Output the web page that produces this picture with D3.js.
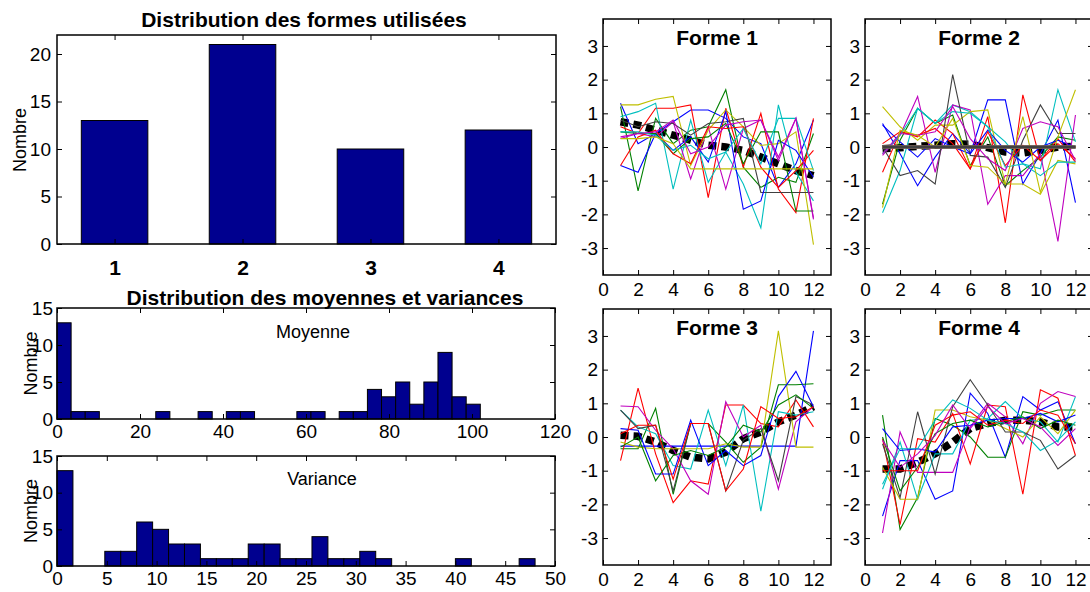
<!DOCTYPE html>
<html>
<head>
<meta charset="utf-8">
<script src="https://cdn.jsdelivr.net/npm/d3@7/dist/d3.min.js"></script>
<style>
    body { margin: 0; background: #fff; }
    svg text { font-family: "Liberation Sans", Arial, sans-serif; }
</style>
</head>
<body>
<svg id="chart" width="1090" height="592"></svg>
<script>
// ---- data ----
var formes = ['1', '2', '3', '4'];
var formeCounts = [13, 21, 10, 12];

// histogram of the means: 30 bins of width 3.4 starting at 0
var moyenneBinWidth = 3.4;
var moyenneCounts = [13, 1, 1, 0, 0, 0, 0, 1, 0, 0, 1, 0, 1, 1, 0, 0, 0, 1, 1, 0, 1, 1, 4, 3, 5, 2, 5, 9, 3, 2];

// histogram of the variances: 30 bins of width 1.6 starting at 0
var varianceBinWidth = 1.6;
var varianceCounts = [13, 0, 0, 2, 2, 6, 5, 3, 3, 1, 1, 1, 3, 3, 1, 1, 4, 1, 1, 2, 1, 0, 0, 0, 0, 1, 0, 0, 0, 1];

var mois = [1, 2, 3, 4, 5, 6, 7, 8, 9, 10, 11, 12];

var forme1Series = [
    [1.3, 0.1, 0.4, 0.75, 1.1, 1.1, 0.85, 0.3, 0.1, -1.2, -0.5, 0.8],
    [1.2, -1.3, 0.85, 0.1, 0.5, 0.6, 1.7, -0.6, -1.2, -0.9, -1.05, 0.4],
    [0.6, 0.4, 1.15, 1.15, 1.25, -1.5, 1.15, -0.6, 1.0, -1.25, -1.95, 0.85],
    [0.9, 1.05, 1.3, -1.25, 0.8, -1.05, -0.15, -1.1, -2.4, 1.25, -0.75, -1.6],
    [0.25, 0.4, 0.3, 0.75, -0.95, 0.6, -1.25, 0.55, 0.8, -0.3, 0.85, -2.1],
    [1.25, 1.25, 1.42, 1.5, -0.55, 0.5, 1.1, 0.6, 0.05, 0.1, 0.45, -2.9],
    [0.8, 0.6, 0.75, 0.7, 0.35, 0.7, 0.75, 0.85, -1.35, -1.35, -1.35, -1.35],
    [-0.55, -0.75, 0.4, -0.1, 0.3, -0.45, 1.05, -1.85, -1.6, 0.2, -0.1, -0.9],
    [0.45, 0.4, 0.4, -0.2, 0.25, 0.3, 0.7, -0.5, 0.45, 0.45, -1.9, -1.9],
    [-0.55, 0.3, 0.5, -0.2, -0.5, 0.6, 0.55, 0.6, -0.6, -1.2, -0.7, -0.1],
    [0.45, 0.45, 0.35, -0.1, 0.05, -0.35, -0.15, 0.55, -0.5, 0.85, 0.85, -0.7],
    [0.3, 0.4, 0.45, 0.8, -0.2, 0.0, 0.65, 0.75, 0.8, -0.4, 0.85, -2.15],
    [0.25, 0.25, 0.3, 0.1, -0.65, -0.65, -0.65, -0.65, -0.65, -0.65, -0.65, -0.65]
];
var forme1Mean = [0.75, 0.65, 0.5, 0.35, 0.2, 0.05, 0.0, -0.1, -0.3, -0.5, -0.7, -0.85];

// several shapes of this class are flat (all zero) and lie under the mean
var forme2Series = [
    [0.7, -0.2, -1.15, -0.3, 0.4, -0.2, 1.4, 1.4, -1.1, -0.2, 0.8, -1.65],
    [-1.7, 0.2, 1.15, 0.7, 0.95, -0.55, 0.3, -1.15, -0.7, -0.3, 0.3, 0.2],
    [-0.75, 0.45, 0.3, 0.8, 0.4, -0.65, 0.9, -2.25, 1.55, -0.4, 0.25, -0.45],
    [-1.95, -0.7, 1.15, 0.7, 1.25, 1.05, 0.6, 0.15, -0.5, -0.65, 1.7, 0.15],
    [-0.25, 0.35, 1.5, -0.75, 1.25, 1.1, -1.7, -0.85, -0.85, -0.2, -2.8, 0.95],
    [1.2, 0.6, 0.2, 0.65, 0.65, 1.05, 1.1, -1.1, -1.1, -1.4, -0.4, -0.5],
    [0.0, -0.85, -0.7, -1.1, 2.15, -0.25, -0.3, -1.2, 0.2, 1.25, 0.4, 0.4],
    [0.65, 0.15, -0.3, 0.25, 0.0, -0.2, 0.5, -0.1, -0.45, 0.0, 0.2, 0.0],
    [0, 0, 0, 0, 0, 0, 0, 0, 0, 0, 0, 0],
    [0.1, 0.45, 0.35, 0.55, 0.1, -0.65, 0.45, -0.55, 0.05, -0.4, 0.1, -0.35],
    [-0.2, 0.35, 1.15, 0.7, 1.05, 1.0, 0.6, -0.6, -0.5, -0.85, -0.45, -0.45],
    [-0.2, 0.4, 0.35, 0.45, 1.2, 0.25, -0.35, -0.7, 0.55, 0.75, 0.6, -0.4],
    [-1.8, 0.5, 0.35, 0.0, 0.85, -0.55, -0.6, -1.1, 0.9, -1.35, 0.3, 1.7],
    [0, 0, 0, 0, 0, 0, 0, 0, 0, 0, 0, 0],
    [0, 0, 0, 0, 0, 0, 0, 0, 0, 0, 0, 0],
    [0, 0, 0, 0, 0, 0, 0, 0, 0, 0, 0, 0],
    [0, 0, 0, 0, 0, 0, 0, 0, 0, 0, 0, 0],
    [0, 0, 0, 0, 0, 0, 0, 0, 0, 0, 0, 0],
    [0, 0, 0, 0, 0, 0, 0, 0, 0, 0, 0, 0],
    [0, 0, 0, 0, 0, 0, 0, 0, 0, 0, 0, 0],
    [0, 0, 0, 0, 0, 0, 0, 0, 0, 0, 0, 0]
];
var forme2Mean = [-0.05, -0.02, 0.02, 0.05, 0.1, 0.08, -0.02, -0.15, -0.18, -0.1, 0.0, 0.02];

var forme3Series = [
    [-0.27, -0.27, -0.27, -0.27, -0.27, -0.27, -0.27, -0.27, -0.27, -0.27, -0.27, 3.15],
    [-0.35, -0.35, 0.85, -1.7, 0.4, 0.4, -0.15, -0.75, -0.3, 1.55, 1.55, 1.58],
    [-0.7, 1.45, -0.5, -1.95, -1.3, -1.4, 0.95, 0.95, 0.4, 0.3, 1.1, 0.3],
    [0.8, 0.3, 0.1, -0.85, -0.95, 0.8, -0.85, 0.95, -2.2, 0.75, 0.65, 0.75],
    [0.92, 0.9, 0.2, -0.35, -1.3, -1.7, 1.05, 0.0, 0.35, -1.55, 0.45, 0.9],
    [-0.15, -0.3, -0.35, -0.35, -0.35, -0.35, -0.2, -0.3, -0.3, 3.15, -0.3, -0.3],
    [0.8, 0.25, 0.35, -1.6, 0.4, 0.4, -1.6, -0.1, 0.25, -1.3, 1.2, 0.95],
    [0.25, 0.2, -1.1, -1.1, 0.5, -0.85, -0.4, -0.85, -0.55, 1.2, 1.95, 0.9],
    [-0.3, 0.0, -1.3, -0.55, -0.4, -0.55, -0.3, 0.35, 0.15, 0.95, 1.25, 0.85],
    [0.1, 0.35, 0.35, -1.25, 0.4, 0.4, -1.6, -0.95, 0.9, 0.55, 0.6, 0.9]
];
var forme3Mean = [0.05, 0.02, -0.15, -0.4, -0.6, -0.65, -0.45, -0.05, 0.15, 0.45, 0.65, 0.9];

var forme4Series = [
    [-2.35, -0.7, -0.7, -1.85, -1.6, 1.3, 0.7, -0.6, 1.2, 0.8, 1.05, -0.2],
    [0.65, -2.75, -1.8, 0.55, 0.35, 0.0, -0.6, -0.6, 0.75, 0.65, 0.8, 0.8],
    [-0.05, -2.6, -0.05, -0.15, 0.7, -0.8, 0.95, 0.9, -1.7, 1.4, 1.15, -0.55],
    [-1.55, -0.15, -1.85, -0.5, -0.5, 0.5, 0.55, 1.05, 0.55, 0.45, -0.15, 1.2],
    [-2.85, 0.15, -1.05, -1.05, -1.05, 0.3, 1.0, 0.6, -0.2, 1.0, 1.35, 1.2],
    [-0.9, -1.85, -1.85, 0.8, 0.8, 0.6, 0.5, 0.25, 0.0, 0.6, 0.1, 0.8],
    [-0.2, -1.8, 0.75, -1.1, 0.9, 1.7, 0.95, 0.15, 0.15, -0.1, -0.95, -0.55],
    [0.25, -0.4, -0.35, -0.45, 0.3, 0.35, 0.5, 0.55, 0.55, 0.7, 0.45, 0.65],
    [0.0, -1.6, -0.9, 0.1, 0.4, 0.5, 0.3, 0.45, 0.6, 0.25, 0.5, 0.35],
    [-1.0, -1.0, -1.0, 0.35, 0.65, 0.75, 0.35, 0.5, 0.4, 0.8, 0.65, -0.2],
    [-1.4, -0.35, -0.35, 0.5, 1.1, 0.85, 0.5, 0.4, 0.15, -0.4, -0.1, 0.45],
    [-0.1, -0.9, -0.5, 0.05, 0.95, 0.25, 0.9, 0.4, 0.55, 0.3, -0.25, 0.25]
];
var forme4Mean = [-0.95, -0.95, -0.75, -0.5, -0.15, 0.25, 0.4, 0.5, 0.5, 0.45, 0.3, 0.3];

// matlab colour order b g r c m y k
var lineColors = ['#0000ff', '#008000', '#ff0000', '#00bfbf', '#bf00bf', '#bfbf00', '#404040'];
var barColor = '#00008f';

var svg = d3.select('#chart');

// draws the box + inward ticks on the four sides (matlab look)
function axesBox(g, x, y, opt) {
    var left = x.range()[0], right = x.range()[1];
    var top = y.range()[1], bottom = y.range()[0];
    var fmt = function (d) { return String(d); };

    var xb = g.append('g').attr('class', 'xaxis').attr('transform', 'translate(0,' + bottom + ')')
        .call(d3.axisBottom(x).tickValues(opt.xTicks).tickSizeInner(-5).tickSizeOuter(0)
            .tickPadding(opt.xPad).tickFormat(opt.xFormat || fmt));
    g.append('g').attr('transform', 'translate(0,' + top + ')')
        .call(d3.axisTop(x).tickValues(opt.xTicks).tickSizeInner(-5).tickSizeOuter(0).tickFormat(''));
    g.append('g').attr('class', 'yaxis').attr('transform', 'translate(' + left + ',0)')
        .call(d3.axisLeft(y).tickValues(opt.yTicks).tickSizeInner(-5).tickSizeOuter(0)
            .tickPadding(opt.yPad).tickFormat(fmt));
    g.append('g').attr('transform', 'translate(' + right + ',0)')
        .call(d3.axisRight(y).tickValues(opt.yTicks).tickSizeInner(-5).tickSizeOuter(0).tickFormat(''));

    g.selectAll('.domain').remove();
    g.selectAll('.tick line').attr('stroke', '#000');
    g.selectAll('.tick text').attr('font-size', opt.fontSize || 19)
        .attr('font-family', '"Liberation Sans", Arial, sans-serif').attr('fill', '#000');

    g.append('rect')
        .attr('x', left).attr('y', top)
        .attr('width', right - left).attr('height', bottom - top)
        .attr('fill', 'none').attr('stroke', '#000').attr('stroke-width', 1.5);
    return xb;
}

function yLabel(x, y, txt) {
    svg.append('text')
        .attr('transform', 'translate(' + x + ',' + y + ')rotate(-90)')
        .attr('text-anchor', 'middle')
        .attr('font-size', 18)
        .text(txt);
}

// ---------- distribution des formes ----------
(function () {
    var g = svg.append('g');
    var x = d3.scaleLinear().domain([0.55, 4.45]).range([57, 556]);
    var y = d3.scaleLinear().domain([0, 22]).range([244, 35]);
    var bw = 0.52;

    g.selectAll('rect.bar').data(formeCounts).enter().append('rect')
        .attr('class', 'bar')
        .attr('x', function (d, i) { return x(i + 1 - bw / 2); })
        .attr('width', function () { return x(bw) - x(0); })
        .attr('y', function (d) { return y(d); })
        .attr('height', function (d) { return y(0) - y(d); })
        .attr('fill', barColor).attr('stroke', '#000').attr('stroke-width', 1);

    var xb = axesBox(g, x, y, {
        xTicks: [1, 2, 3, 4], yTicks: [0, 5, 10, 15, 20], xPad: 16, yPad: 6,
        xFormat: function (d) { return formes[d - 1]; }
    });
    xb.selectAll('text').attr('font-weight', 'bold').attr('font-size', 21);

    svg.append('text').attr('x', 304).attr('y', 27).attr('text-anchor', 'middle')
        .attr('font-size', 21).attr('font-weight', 'bold').text('Distribution des formes utilisées');
    yLabel(26, 140, 'Nombre');
})();

// ---------- histogrammes ----------
function histogram(counts, binWidth, xMax, xTicks, top, bottom, label, labelX, labelY) {
    var g = svg.append('g');
    var x = d3.scaleLinear().domain([0, xMax]).range([57, 555]);
    var y = d3.scaleLinear().domain([0, 15]).range([bottom, top]);

    g.selectAll('rect.bin').data(counts).enter().append('rect')
        .attr('class', 'bin')
        .attr('x', function (d, i) { return x(i * binWidth); })
        .attr('width', function () { return x(binWidth) - x(0); })
        .attr('y', function (d) { return y(d); })
        .attr('height', function (d) { return y(0) - y(d); })
        .attr('fill', barColor)
        .attr('stroke', function (d) { return d > 0 ? '#000' : 'none'; })
        .attr('stroke-width', 1);

    axesBox(g, x, y, { xTicks: xTicks, yTicks: [0, 5, 10, 15], xPad: 6, yPad: 4 });

    svg.append('text').attr('x', labelX).attr('y', labelY).attr('text-anchor', 'middle')
        .attr('font-size', 18).text(label);
    yLabel(37, (top + bottom) / 2, 'Nombre');
}

histogram(moyenneCounts, moyenneBinWidth, 120, [0, 20, 40, 60, 80, 100, 120], 308, 419, 'Moyenne', 313, 338);
histogram(varianceCounts, varianceBinWidth, 50, [0, 5, 10, 15, 20, 25, 30, 35, 40, 45, 50], 456, 566, 'Variance', 322, 485);

svg.append('text').attr('x', 325).attr('y', 305).attr('text-anchor', 'middle')
    .attr('font-size', 21).attr('font-weight', 'bold').text('Distribution des moyennes et variances');

// ---------- formes ----------
var panels = [
    { title: 'Forme 1', series: forme1Series, mean: forme1Mean, left: 603, top: 19 },
    { title: 'Forme 2', series: forme2Series, mean: forme2Mean, left: 865, top: 19 },
    { title: 'Forme 3', series: forme3Series, mean: forme3Mean, left: 603, top: 309 },
    { title: 'Forme 4', series: forme4Series, mean: forme4Mean, left: 865, top: 309 }
];

panels.forEach(function (p) {
    var g = svg.append('g');
    var x = d3.scaleLinear().domain([0, 13]).range([p.left, p.left + 228]);
    var y = d3.scaleLinear().domain([-3.8, 3.8]).range([p.top + 256, p.top]);
    var line = d3.line()
        .x(function (d, i) { return x(mois[i]); })
        .y(function (d) { return y(d); });

    // mean drawn first, thick dashed black
    g.append('path').datum(p.mean)
        .attr('d', line).attr('fill', 'none')
        .attr('stroke', '#000').attr('stroke-width', 7.5).attr('stroke-dasharray', '8,5');

    g.selectAll('path.serie').data(p.series).enter().append('path')
        .attr('class', 'serie')
        .attr('d', line).attr('fill', 'none')
        .attr('stroke', function (d, i) { return lineColors[i % lineColors.length]; })
        .attr('stroke-width', function (d) {
            // flat shapes stack on top of each other and look thicker
            return d3.max(d, Math.abs) === 0 ? 2.5 : 1.1;
        });

    axesBox(g, x, y, {
        xTicks: [0, 2, 4, 6, 8, 10, 12], yTicks: [-3, -2, -1, 0, 1, 2, 3], xPad: 8, yPad: 5
    });

    svg.append('text').attr('x', x(6.5)).attr('y', p.top + 26).attr('text-anchor', 'middle')
        .attr('font-size', 21).attr('font-weight', 'bold').text(p.title);
});
</script>
</body>
</html>
